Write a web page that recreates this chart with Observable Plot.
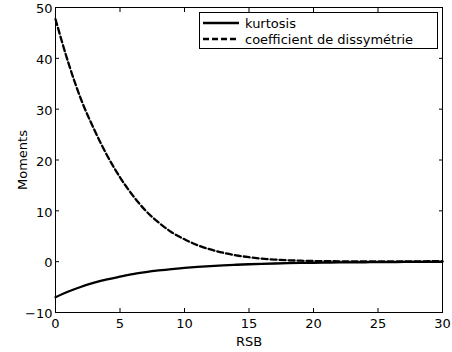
<!DOCTYPE html>
<html>
<head>
<meta charset="utf-8">
<script src="https://cdn.jsdelivr.net/npm/d3@7"></script>
<script src="https://cdn.jsdelivr.net/npm/@observablehq/plot@0.6"></script>
<style>
  html, body { margin: 0; padding: 0; background: white; }
  #wrap { position: relative; width: 452px; height: 352px; font-family: "DejaVu Sans", sans-serif; }
  #legend { position: absolute; left: 199px; top: 12px; width: 237px; height: 35px; border: 1px solid black; background: white; font-size: 13px; color: black; }
  .row { position: absolute; left: 0; height: 16px; display: flex; align-items: center; }
  .row svg { margin-left: 3px; margin-right: 6px; }
</style>
</head>
<body>
<div id="wrap"></div>
<script>
const rsb = [0,1,2,3,4,5,6,7,8,9,10,11,12,13,14,15,16,17,18,19,20,21,22,23,24,25,26,27,28,29,30];
const kurtosis = [-7.0,-5.88,-4.93,-4.14,-3.48,-2.95,-2.45,-2.06,-1.73,-1.45,-1.22,-1.02,-0.86,-0.72,-0.61,-0.51,-0.43,-0.36,-0.30,-0.25,-0.21,-0.18,-0.15,-0.13,-0.11,-0.09,-0.08,-0.06,-0.05,-0.05,-0.04];
const dissymetrie = [47.7,39.1,31.8,26.0,20.9,16.6,13.0,10.0,7.7,5.8,4.4,3.25,2.4,1.75,1.25,0.88,0.6,0.41,0.28,0.19,0.13,0.09,0.07,0.06,0.05,0.05,0.05,0.06,0.07,0.08,0.1];
const seriesNames = ["kurtosis", "coefficient de dissymétrie"];
const xTicks = [0,5,10,15,20,25,30];
const yTicks = [-10,0,10,20,30,40,50];

const data = [];
rsb.forEach((x, i) => {
  data.push({rsb: x, value: kurtosis[i], serie: seriesNames[0]});
  data.push({rsb: x, value: dissymetrie[i], serie: seriesNames[1]});
});
const dashes = {[seriesNames[0]]: null, [seriesNames[1]]: "6,3"};

const chart = Plot.plot({
  width: 452,
  height: 352,
  marginLeft: 55,
  marginRight: 10,
  marginTop: 7,
  marginBottom: 40,
  style: {fontFamily: "DejaVu Sans", fontSize: "13px", background: "white", color: "black"},
  x: {domain: [0, 30]},
  y: {domain: [-10, 50]},
  marks: [
    Plot.axisX(xTicks, {anchor: "bottom", tickSize: 0, tickPadding: 6, label: "RSB", labelAnchor: "center", labelOffset: 33, labelArrow: "none"}),
    Plot.axisY(yTicks, {anchor: "left", tickSize: 0, tickPadding: 3, dy: 1.5, label: "Moments", labelAnchor: "center", labelOffset: 38, labelArrow: "none"}),
    Plot.axisX(xTicks, {anchor: "bottom", tickSize: 4, dy: -4, tickFormat: () => "", label: null}),
    Plot.axisX(xTicks, {anchor: "top", tickSize: 4, dy: 4, tickFormat: () => "", label: null}),
    Plot.axisY(yTicks, {anchor: "left", tickSize: 4, dx: 4, tickFormat: () => "", label: null}),
    Plot.axisY(yTicks, {anchor: "right", tickSize: 4, dx: -4, tickFormat: () => "", label: null}),
    ...seriesNames.map(s => Plot.line(data.filter(d => d.serie === s), {x: "rsb", y: "value", stroke: "black", strokeWidth: 2.3, strokeDasharray: dashes[s], curve: "monotone-x"})),
    Plot.frame({stroke: "black", strokeWidth: 1})
  ]
});
const wrap = document.getElementById("wrap");
wrap.appendChild(chart);

const legend = document.createElement("div");
legend.id = "legend";
seriesNames.forEach((s, i) => {
  const row = document.createElement("div");
  row.className = "row";
  row.style.top = (2 + i * 16) + "px";
  const svg = d3.create("svg").attr("width", 36).attr("height", 6);
  svg.append("line").attr("x1", 0).attr("x2", 36).attr("y1", 3).attr("y2", 3)
    .attr("stroke", "black").attr("stroke-width", 2.3).attr("stroke-dasharray", dashes[s]);
  row.appendChild(svg.node());
  const t = document.createElement("span");
  t.textContent = s;
  row.appendChild(t);
  legend.appendChild(row);
});
wrap.appendChild(legend);
</script>
</body>
</html>
